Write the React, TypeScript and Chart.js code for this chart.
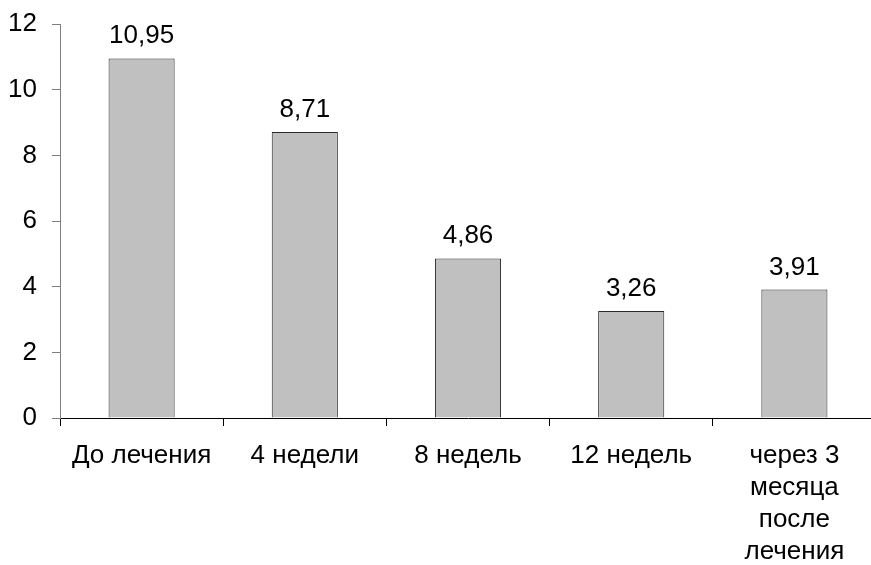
import React, { useEffect, useRef } from "react";
import { Chart, registerables } from "chart.js";

Chart.register(...registerables);

const categories: (string | string[])[] = [
  "До лечения",
  "4 недели",
  "8 недель",
  "12 недель",
  ["через 3", "месяца", "после", "лечения"],
];
const values: number[] = [10.95, 8.71, 4.86, 3.26, 3.91];
const valueLabels: string[] = ["10,95", "8,71", "4,86", "3,26", "3,91"];

const FONT = "'Liberation Sans', Arial, sans-serif";

const valueLabelPlugin = {
  id: "valueLabels",
  afterDatasetsDraw(chart: any) {
    const ctx = chart.ctx;
    const meta = chart.getDatasetMeta(0);
    ctx.save();
    ctx.font = `26px ${FONT}`;
    ctx.fillStyle = "#000";
    ctx.textAlign = "center";
    ctx.textBaseline = "alphabetic";
    meta.data.forEach((bar: any, i: number) => {
      ctx.fillText(valueLabels[i], bar.x, bar.y - 15);
    });
    ctx.restore();
  },
};

export default function App() {
  const ref = useRef<HTMLCanvasElement>(null);
  useEffect(() => {
    if (!ref.current) return;
    const chart = new Chart(ref.current, {
      type: "bar",
      data: {
        labels: categories,
        datasets: [
          {
            data: values,
            backgroundColor: "#C0C0C0",
            borderColor: "#2a2a2a",
            borderWidth: 1,
            categoryPercentage: 1,
            barPercentage: 0.405,
          },
        ],
      },
      options: {
        animation: false,
        responsive: false,
        devicePixelRatio: 1,
        layout: { padding: { top: 24, right: 0, left: 0, bottom: 0 } },
        plugins: { legend: { display: false }, tooltip: { enabled: false } },
        scales: {
          x: {
            grid: {
              offset: true,
              drawOnChartArea: false,
              drawTicks: true,
              tickLength: 8,
              color: "#000",
            },
            border: { color: "#000", width: 1 },
            ticks: {
              color: "#000",
              font: { family: FONT, size: 26, lineHeight: 1.23 },
              padding: 14,
              maxRotation: 0,
              autoSkip: false,
            },
            afterFit: (scale: any) => {
              scale.height = 147;
              scale.paddingLeft = 0;
              scale.paddingRight = 0;
            },
          },
          y: {
            min: 0,
            max: 12,
            ticks: {
              stepSize: 2,
              color: "#000",
              font: { family: FONT, size: 26 },
              padding: 15,
            },
            grid: {
              drawOnChartArea: false,
              drawTicks: true,
              tickLength: 8,
              color: "#808080",
            },
            border: { color: "#808080", width: 1 },
            afterFit: (scale: any) => {
              scale.width = 60;
              scale.paddingTop = 0;
              scale.paddingBottom = 0;
            },
          },
        },
      },
      plugins: [valueLabelPlugin],
    });
    return () => chart.destroy();
  }, []);
  return (
    <div style={{ position: "fixed", left: 0, top: 0, width: 871, height: 565, overflow: "hidden", background: "#fff" }}>
      <canvas ref={ref} width={876} height={565} style={{ width: 876, height: 565, display: "block" }} />
    </div>
  );
}
